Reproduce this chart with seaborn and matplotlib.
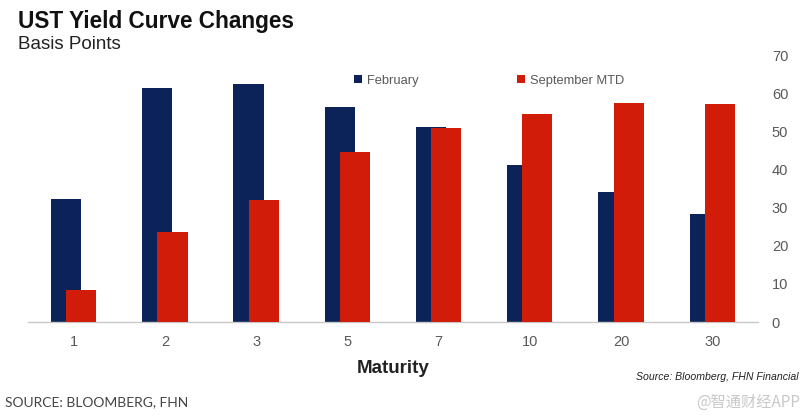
import numpy as np
import pandas as pd
from matplotlib import pyplot as plt
import seaborn as sns

# data
maturity = ['1', '2', '3', '5', '7', '10', '20', '30']
february = [32.3, 61.4, 62.5, 56.4, 51.2, 41.2, 34.1, 28.3]
september_mtd = [8.4, 23.6, 32.0, 44.6, 50.9, 54.6, 57.5, 57.2]

navy = '#0B2358'
red = '#D21C0A'
grey = '#595959'

sns.set_theme(style='white')
plt.rcParams['font.family'] = ['Liberation Sans', 'DejaVu Sans']

df = pd.DataFrame({'Maturity': maturity, 'February': february, 'September MTD': september_mtd})

fig = plt.figure(figsize=(8.08, 4.19), dpi=100)
ax = fig.add_axes([0.0347, 0.2315, 0.9033, 0.6372])

bw = 0.33
sns.barplot(data=df, x='Maturity', y='February', color=navy, width=bw, saturation=1,
            ax=ax, label='February', zorder=2)
n = len(ax.patches)
sns.barplot(data=df, x='Maturity', y='September MTD', color=red, width=bw, saturation=1,
            ax=ax, label='September MTD', zorder=3)
# overlap the two series like the original
for i, p in enumerate(ax.patches):
    shift = -0.083 if i < n else 0.083
    p.set_x(p.get_x() + shift)
    p.set_linewidth(0)

ax.set_ylim(0, 70)
ax.set_xlim(-0.5, len(maturity) - 0.5)
ax.yaxis.tick_right()
ax.set_yticks(range(0, 71, 10))
ax.tick_params(axis='y', labelsize=10.5, colors=grey, length=0, pad=10)
ax.tick_params(axis='x', labelsize=10.5, colors=grey, length=0, pad=9)
for s in ['top', 'left', 'right']:
    ax.spines[s].set_visible(False)
ax.spines['bottom'].set_color('#C8C8C8')
ax.spines['bottom'].set_linewidth(1)
ax.set_ylabel('')
ax.set_xlabel('Maturity', fontsize=13.5, fontweight='bold', color='#222222', labelpad=8)

leg = ax.legend(loc='center', bbox_to_anchor=(0.632, 0.903), ncol=2, frameon=False,
                handlelength=0.6, handleheight=0.6, handletextpad=0.4, columnspacing=7.6,
                fontsize=9.3)
for t in leg.get_texts():
    t.set_color(grey)

fig.text(0.022, 0.948, 'UST Yield Curve Changes', fontsize=16.3, fontweight='bold',
         color='#111111', va='center')
fig.text(0.022, 0.893, 'Basis Points', fontsize=13.5, color='#222222', va='center')
fig.text(0.988, 0.101, 'Source: Bloomberg, FHN Financial', fontsize=7.6, style='italic',
         color='#222222', ha='right', va='center')
fig.text(0.006, 0.04, 'SOURCE: BLOOMBERG, FHN', fontsize=10, color='#444444',
         family=['Lato', 'DejaVu Sans'], va='center')
fig.text(0.99, 0.04, '@智通财经APP', fontsize=11, color='#C8C8C8', ha='right', va='center',
         family=['Noto Sans CJK SC', 'DejaVu Sans'])

fig.savefig('out.png', dpi=100)
